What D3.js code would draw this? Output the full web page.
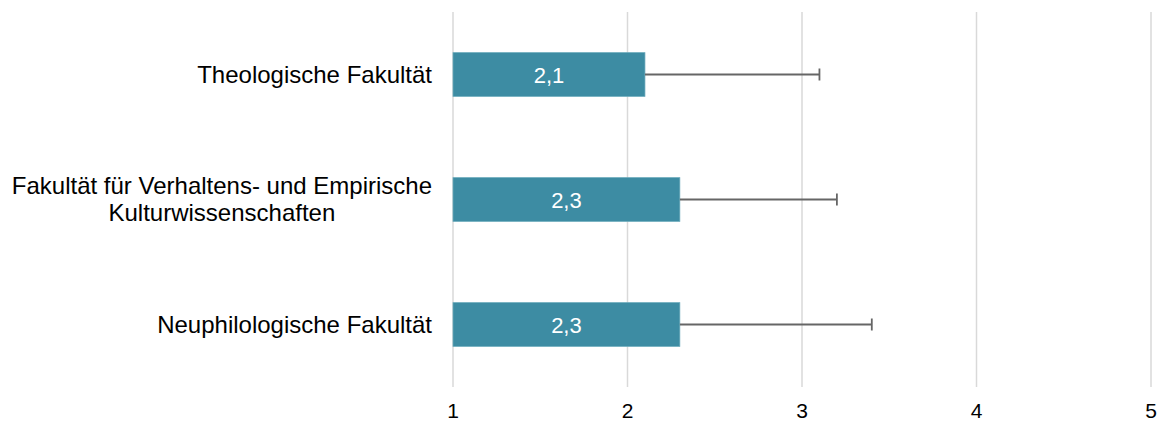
<!DOCTYPE html>
<html>
<head>
<meta charset="utf-8">
<script src="https://cdn.jsdelivr.net/npm/d3@7"></script>
<style>
body { margin: 0; background: #fff; }
text { font-family: "Liberation Sans", Arial, sans-serif; }
</style>
</head>
<body>
<script>
//chart data
var categories = [
    ["Theologische Fakultät"],
    ["Fakultät für Verhaltens- und Empirische", "Kulturwissenschaften"],
    ["Neuphilologische Fakultät"]
];
var means = [2.1, 2.3, 2.3];
var errors = [1.0, 0.9, 1.1];
var ticks = [1, 2, 3, 4, 5];

window.onload = drawChart();

function drawChart(){
    var width = 1159, height = 423;
    var left = 453, right = 1151, top = 12, bottom = 387;

    var svg = d3.select("body")
        .append("svg")
        .attr("width", width)
        .attr("height", height);

    var x = d3.scaleLinear()
        .domain([1, 5])
        .range([left, right]);

    var y = d3.scaleBand()
        .domain(d3.range(categories.length))
        .range([top, bottom])
        .paddingInner(0.65)
        .paddingOuter(0.325);

    //gridlines
    svg.selectAll(".grid")
        .data(ticks)
        .enter()
        .append("line")
        .attr("x1", function(d){ return x(d); })
        .attr("x2", function(d){ return x(d); })
        .attr("y1", top)
        .attr("y2", bottom)
        .style("stroke", "#d9d9d9")
        .style("stroke-width", "1.5px");

    //tick labels
    svg.selectAll(".tick")
        .data(ticks)
        .enter()
        .append("text")
        .attr("x", function(d){ return x(d); })
        .attr("y", 418)
        .attr("text-anchor", "middle")
        .style("font-size", "21px")
        .style("fill", "#000")
        .text(function(d){ return d; });

    //bars
    svg.selectAll(".bar")
        .data(means)
        .enter()
        .append("rect")
        .attr("x", x(1))
        .attr("y", function(d, i){ return y(i); })
        .attr("width", function(d){ return x(d) - x(1); })
        .attr("height", y.bandwidth())
        .style("fill", "#3d8ca3")
        .style("stroke", "#6aa9bb")
        .style("stroke-width", "0.75px");

    //error bars
    var cap = 6;
    var errs = svg.selectAll(".err")
        .data(means)
        .enter()
        .append("g")
        .style("stroke", "#666")
        .style("stroke-width", "1.8px");
    errs.append("line")
        .attr("x1", function(d){ return x(d); })
        .attr("x2", function(d, i){ return x(d + errors[i]); })
        .attr("y1", function(d, i){ return y(i) + y.bandwidth() / 2; })
        .attr("y2", function(d, i){ return y(i) + y.bandwidth() / 2; });
    errs.append("line")
        .attr("x1", function(d, i){ return x(d + errors[i]); })
        .attr("x2", function(d, i){ return x(d + errors[i]); })
        .attr("y1", function(d, i){ return y(i) + y.bandwidth() / 2 - cap; })
        .attr("y2", function(d, i){ return y(i) + y.bandwidth() / 2 + cap; });

    //value labels
    svg.selectAll(".val")
        .data(means)
        .enter()
        .append("text")
        .attr("x", function(d){ return (x(1) + x(d)) / 2; })
        .attr("y", function(d, i){ return y(i) + y.bandwidth() / 2 + 8; })
        .attr("text-anchor", "middle")
        .style("font-size", "22px")
        .style("fill", "#fff")
        .text(function(d){ return String(d).replace(".", ","); });

    //category labels, block right aligned, lines centred
    var labelRight = 432;
    categories.forEach(function(lines, i){
        var g = svg.append("text")
            .attr("text-anchor", "middle")
            .style("font-size", "24px")
            .style("fill", "#000");
        var cy = y(i) + y.bandwidth() / 2;
        var lh = 27;
        var tmp = g.append("tspan").text(lines[0]);
        var w = 0;
        lines.forEach(function(l){
            tmp.text(l);
            w = Math.max(w, tmp.node().getComputedTextLength());
        });
        tmp.remove();
        var cx = labelRight - w / 2;
        lines.forEach(function(l, j){
            g.append("tspan")
                .attr("x", cx)
                .attr("y", cy + 8 + (j - (lines.length - 1) / 2) * lh)
                .text(l);
        });
    });
}
</script>
</body>
</html>
